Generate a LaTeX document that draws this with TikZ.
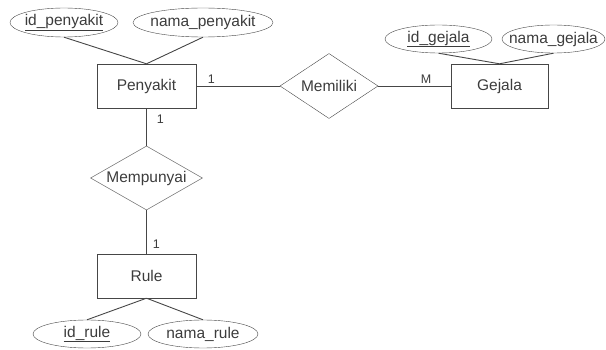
\documentclass[tikz,border=0pt]{standalone}
\usepackage{fontspec}
\setmainfont{Liberation Sans}
\usetikzlibrary{shapes.geometric, positioning}

\begin{document}
\begin{tikzpicture}[x=1pt, y=-1pt,
    entity/.style={draw=linecolor, rectangle, minimum width=99pt, minimum height=44pt, inner sep=0pt, text=textcolor, font=\fontsize{15.5}{18}\selectfont},
    relation/.style 2 args={draw=linecolor, diamond, aspect=2.2, inner sep=0pt, minimum width=#1, minimum height=#2, text=textcolor, font=\fontsize{15.5}{18}\selectfont},
    attrib/.style 2 args={draw=linecolor, ellipse, inner sep=0pt, minimum width=#1, minimum height=28pt, label={[text=textcolor, font=\fontsize{15.5}{18}\selectfont]center:#2}},
    card/.style={text=textcolor, font=\fontsize{12.5}{14}\selectfont, inner sep=2pt},
    link/.style={draw=linecolor, line width=0.9pt}
]
    % Define colors
    \definecolor{linecolor}{RGB}{70,70,70}
    \definecolor{textcolor}{RGB}{60,60,60}

    % Canvas
    \useasboundingbox (0,0) rectangle (606,350);

    % Entities
    \node[entity] (penyakit) at (146.5,86) {Penyakit};
    \node[entity, minimum width=97pt] (gejala) at (499.5,86) {Gejala};
    \node[entity] (rule) at (146.5,276) {Rule};

    % Relations
    \node[relation={98pt}{65pt}] (memiliki) at (329,86) {Memiliki};
    \node[relation={110pt}{64pt}] (mempunyai) at (146.5,178) {Mempunyai};

    % Attributes
    \node[attrib={108pt}{\underline{id\_penyakit}}, minimum height=29pt] (idpenyakit) at (64,22.5) {};
    \node[attrib={140pt}{nama\_penyakit}, minimum height=29pt] (namapenyakit) at (203,22.5) {};
    \node[attrib={107pt}{\underline{id\_gejala}}] (idgejala) at (438.5,39) {};
    \node[attrib={103pt}{nama\_gejala}] (namagejala) at (553.5,39) {};
    \node[attrib={108pt}{\underline{id\_rule}}] (idrule) at (87,334) {};
    \node[attrib={110pt}{nama\_rule}] (namarule) at (203,334) {};

    % Attribute links
    \draw[link] (idpenyakit.south) -- (penyakit.north);
    \draw[link] (namapenyakit.south) -- (penyakit.north);
    \draw[link] (idgejala.south) -- (gejala.north);
    \draw[link] (namagejala.south) -- (gejala.north);
    \draw[link] (rule.south) -- (idrule.north);
    \draw[link] (rule.south) -- (namarule.north);

    % Relation links with cardinalities
    \draw[link] (penyakit) -- node[card, pos=0.18, above] {1} (memiliki);
    \draw[link] (memiliki) -- node[card, pos=0.66, above] {M} (gejala);
    \draw[link] (penyakit) -- node[card, pos=0.3, right, xshift=8pt] {1} (mempunyai);
    \draw[link] (mempunyai) -- node[card, pos=0.78, right, xshift=4pt] {1} (rule);

\end{tikzpicture}
\end{document}
